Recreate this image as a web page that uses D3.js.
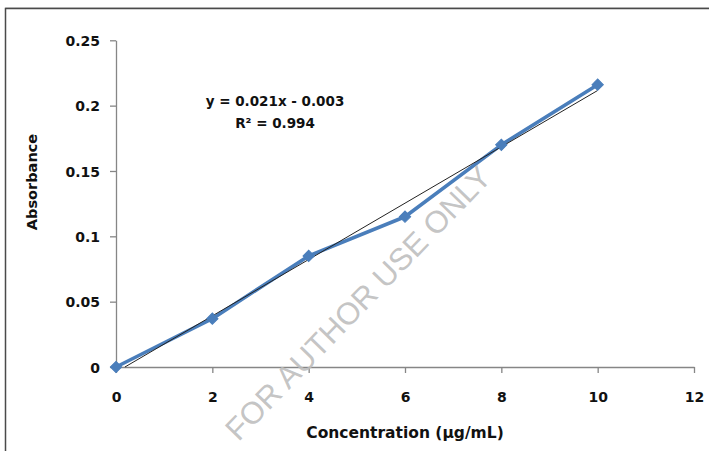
<!DOCTYPE html>
<html>
<head>
<meta charset="utf-8">
<script src="https://cdn.jsdelivr.net/npm/d3@7"></script>
<style>
  html, body { margin: 0; padding: 0; background: #fff; }
  svg { display: block; }
</style>
</head>
<body>
<svg id="chart" width="709" height="451"></svg>
<script>
// ---- data ----
const concentrations = [0, 2, 4, 6, 8, 10];
const absorbance = [0, 0.037, 0.085, 0.115, 0.170, 0.216];
const xTicks = [0, 2, 4, 6, 8, 10, 12];
const yTicks = [0, 0.05, 0.1, 0.15, 0.2, 0.25];
const yTickLabels = ["0", "0.05", "0.1", "0.15", "0.2", "0.25"];
const trendCoeffs = [0.02156, -0.004]; // slope, intercept (fitted line as drawn)
const equationLines = ["y = 0.021x - 0.003", "R² = 0.994"];
const xTitle = "Concentration (µg/mL)";
const yTitle = "Absorbance";
const watermark = "FOR AUTHOR USE ONLY";

const svg = d3.select("#chart");
const W = 709, H = 451;
const font = "'DejaVu Sans', sans-serif";

// frame
svg.append("path")
  .attr("d", `M5.5,${H} V8.5 H${W}`)
  .attr("fill", "none").attr("stroke", "#d0d0d0").attr("stroke-width", 1)
  .attr("transform", "translate(0,-1)");
svg.append("path")
  .attr("d", `M5.5,${H} V8.5 H${W}`)
  .attr("fill", "none").attr("stroke", "#4a4a4a").attr("stroke-width", 1.5);

const x = d3.scaleLinear().domain([0, 12]).range([116, 694]);
const y = d3.scaleLinear().domain([0, 0.25]).range([367, 40.3]);

// axes
const yAxis = d3.axisLeft(y).tickValues(yTicks)
  .tickFormat((d, i) => yTickLabels[i]).tickSize(6).tickPadding(10).tickSizeOuter(0);
const gy = svg.append("g").attr("transform", `translate(${x(0)},0)`).call(yAxis);
const xAxis = d3.axisBottom(x).tickValues(xTicks).tickFormat(d3.format("d"))
  .tickSize(6).tickPadding(19).tickSizeOuter(0);
const gx = svg.append("g").attr("transform", `translate(0,${y(0)})`).call(xAxis);

[gx, gy].forEach(g => {
  g.select(".domain").attr("stroke", "#868686").attr("stroke-width", 1.3);
  g.selectAll(".tick line").attr("stroke", "#868686").attr("stroke-width", 1.3);
  g.selectAll(".tick text")
    .attr("fill", "#111").attr("font-family", font)
    .attr("font-weight", "bold").attr("font-size", "14px");
});
gy.selectAll(".tick text").attr("dy", "0.36em");
gx.selectAll(".tick text").attr("dy", "0.71em");

// axis titles
svg.append("text")
  .attr("x", 405).attr("y", 433).attr("dy", "0.35em")
  .attr("text-anchor", "middle")
  .attr("font-family", font).attr("font-weight", "bold").attr("font-size", "15.5px")
  .attr("fill", "#111").text(xTitle);
svg.append("text")
  .attr("transform", "translate(32,182) rotate(-90)")
  .attr("dy", "0.35em")
  .attr("text-anchor", "middle")
  .attr("font-family", font).attr("font-weight", "bold").attr("font-size", "14.5px")
  .attr("fill", "#111").text(yTitle);

// trendline (clipped at y = 0 as in the reference)
const xStart = -trendCoeffs[1] / trendCoeffs[0];
const trendPts = [xStart, d3.max(concentrations)].map(v => [v, trendCoeffs[0] * v + trendCoeffs[1]]);

// data series
const pts = concentrations.map((c, i) => [c, absorbance[i]]);
const line = d3.line().x(d => x(d[0])).y(d => y(d[1]));

svg.append("path").datum(pts)
  .attr("d", line)
  .attr("fill", "none").attr("stroke", "#4a7ebb").attr("stroke-width", 3.6)
  .attr("stroke-linejoin", "round");

svg.append("path").datum(trendPts)
  .attr("d", line)
  .attr("fill", "none").attr("stroke", "#222").attr("stroke-width", 1);

const sym = d3.symbol().type(d3.symbolSquare).size(64);
svg.selectAll(".mk").data(pts).enter().append("path")
  .attr("class", "mk")
  .attr("d", sym)
  .attr("transform", d => `translate(${x(d[0])},${y(d[1])}) rotate(45)`)
  .attr("fill", "#4a7ebb").attr("stroke", "#4a7ebb").attr("stroke-width", 1);

// equation label
svg.selectAll(".eq").data(equationLines).enter().append("text")
  .attr("class", "eq")
  .attr("x", 275).attr("y", (d, i) => 101.7 + i * 21.6).attr("dy", "0.35em")
  .attr("text-anchor", "middle")
  .attr("font-family", font).attr("font-weight", "bold").attr("font-size", "13.5px")
  .attr("fill", "#111").text(d => d);

// watermark
svg.append("text")
  .attr("transform", "translate(358,303) rotate(-46)")
  .attr("dy", "0.35em")
  .attr("text-anchor", "middle")
  .attr("font-family", "'Liberation Sans', Arial, sans-serif")
  .attr("font-size", "31px")
  .attr("fill", "#bdbdbd").attr("fill-opacity", 0.9)
  .text(watermark);
</script>
</body>
</html>
